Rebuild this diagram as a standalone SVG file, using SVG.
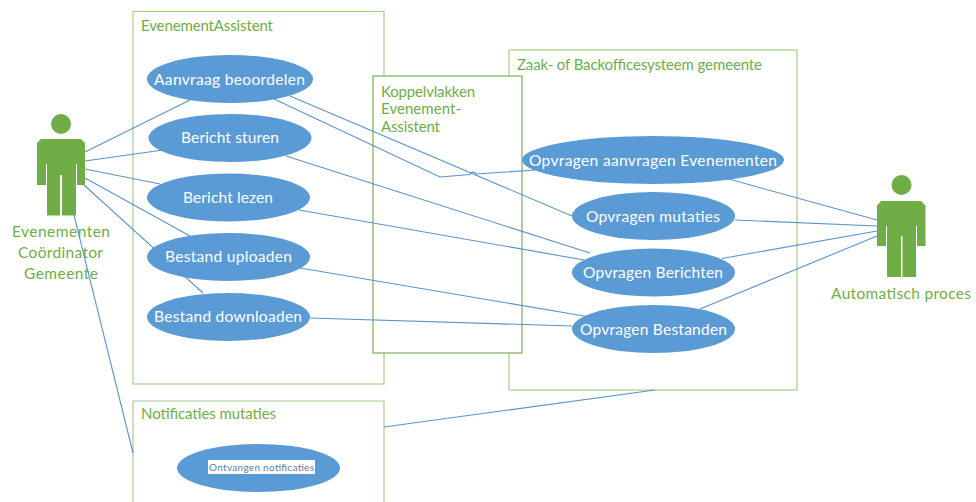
<svg xmlns="http://www.w3.org/2000/svg" width="976" height="502" viewBox="0 0 976 502">
<style>
text{font-family:"Lato","Open Sans","Liberation Sans",sans-serif;font-size:15px}
.box{fill:#fff;stroke:#a4cf88;stroke-width:1.2}
.lbl{fill:#70ad47}
.big{fill:#70ad47;font-size:15.5px}
.uc ellipse{fill:#5b9bd5}
.uc text{fill:#fff;font-size:15.5px}
.actor{fill:#70ad47}
.conn{fill:none;stroke:#5b93cb;stroke-width:1.1}
</style>
<rect width="976" height="502" fill="#fff"/>
<g id="box-evenement"><rect class="box" x="133" y="11.500" width="251" height="372.500"/><text class="lbl" x="141" y="31" textLength="132">EvenementAssistent</text></g>
<g id="box-zaak"><rect class="box" x="509" y="50" width="288" height="340"/><text class="lbl" x="517" y="70" textLength="245">Zaak- of Backofficesysteem gemeente</text></g>
<g id="box-notificaties"><path class="box" d="M133 502V401H384V502"/><text class="lbl" x="141" y="419" textLength="135">Notificaties mutaties</text></g>
<g id="box-koppel"><rect class="box" x="373" y="76" width="149" height="277" style="stroke:#78b052"/><text class="lbl" x="381" y="97" textLength="94">Koppelvlakken</text><text class="lbl" x="381" y="114" textLength="80">Evenement-</text><text class="lbl" x="381" y="132" textLength="59">Assistent</text></g>
<g id="uc-aanvraag" class="uc"><ellipse cx="230" cy="79" rx="83" ry="24"/><text x="154" y="85" textLength="151">Aanvraag beoordelen</text></g>
<g id="uc-sturen" class="uc"><ellipse cx="230" cy="138" rx="81.500" ry="24"/><text x="181" y="143" textLength="98">Bericht sturen</text></g>
<g id="uc-lezen" class="uc"><ellipse cx="228.500" cy="197.500" rx="81.500" ry="24"/><text x="183" y="203" textLength="90">Bericht lezen</text></g>
<g id="uc-uploaden" class="uc"><ellipse cx="228.500" cy="257" rx="81.500" ry="24"/><text x="165" y="262" textLength="127">Bestand uploaden</text></g>
<g id="uc-downloaden" class="uc"><ellipse cx="228.500" cy="317" rx="81.500" ry="24"/><text x="154" y="322" textLength="148">Bestand downloaden</text></g>
<g id="uc-opv-aanvragen" class="uc"><ellipse cx="653" cy="160" rx="131" ry="24"/><text x="529" y="166" textLength="248">Opvragen aanvragen Evenementen</text></g>
<g id="uc-opv-mutaties" class="uc"><ellipse cx="653.500" cy="216" rx="81.500" ry="24"/><text x="586" y="222" textLength="134">Opvragen mutaties</text></g>
<g id="uc-opv-berichten" class="uc"><ellipse cx="653.500" cy="272.500" rx="81.500" ry="24"/><text x="583" y="278" textLength="140">Opvragen Berichten</text></g>
<g id="uc-opv-bestanden" class="uc"><ellipse cx="653.500" cy="329" rx="81.500" ry="24"/><text x="580" y="335" textLength="147">Opvragen Bestanden</text></g>
<g id="uc-ontvangen" class="uc"><ellipse cx="258.500" cy="468" rx="81.500" ry="24"/><rect x="208" y="460" width="107" height="14" fill="#fff"/><text x="209" y="470.500" textLength="105" style="fill:#5b7fa8;font-size:10px">Ontvangen notificaties</text></g>
<g id="actor-coordinator"><circle class="actor" cx="61" cy="124" r="10"/><path class="actor" d="M41 139H81L85 143V185H77V164H76V215.500H62V175H60V215.500H47V164H46V185H37V143Z"/><text class="big" x="12" y="237" textLength="98">Evenementen</text><text class="big" x="18" y="258" textLength="85">Coördinator</text><text class="big" x="24" y="279" textLength="74">Gemeente</text></g>
<g id="actor-proces"><circle class="actor" cx="901.500" cy="185" r="10"/><path class="actor" d="M881 201H921L925.500 205.500V246H917V226H916V277H902.500V236H901V277H887V226H886V246H877V205.500Z"/><text class="big" x="831" y="299" textLength="140">Automatisch proces</text></g>
<g id="connectors" class="conn">
<path d="M85 152L190 100"/>
<path d="M85 161L163 150"/>
<path d="M85 169L160 184"/>
<path d="M85 178L190 236"/>
<path d="M84 185L203 293"/>
<path d="M74 215L133 453"/>
<path d="M274 99L440 177L470 174.500A3.200 3.200 0 0 1 476 174L535 170"/>
<path d="M290 96L572 216"/>
<path d="M286 156L590 253"/>
<path d="M299 210L584 260"/>
<path d="M300 268L590 317"/>
<path d="M310 318L572 326"/>
<path d="M725 178L877 220"/>
<path d="M735 220L877 226"/>
<path d="M722 258.500L877 231"/>
<path d="M700 309L877 236"/>
<path d="M384 427L655 390"/>
</g>
</svg>
